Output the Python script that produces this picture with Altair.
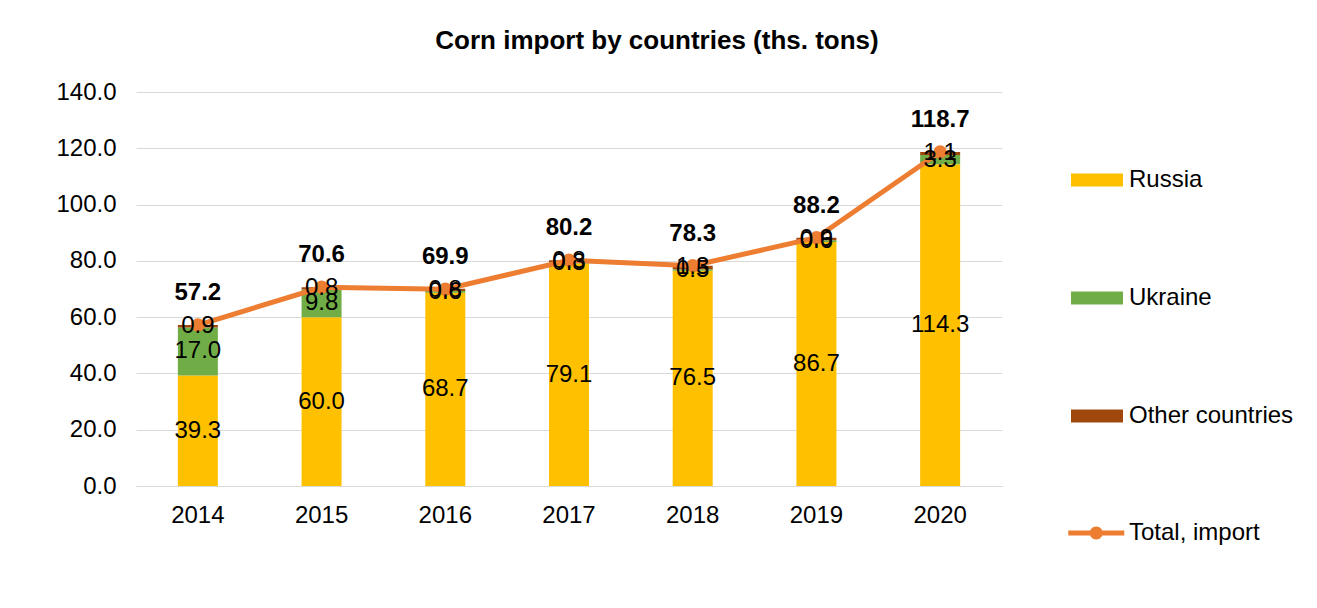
import altair as alt
import pandas as pd

years = ["2014", "2015", "2016", "2017", "2018", "2019", "2020"]
russia = [39.3, 60.0, 68.7, 79.1, 76.5, 86.7, 114.3]
ukraine = [17.0, 9.8, 0.6, 0.3, 0.5, 0.6, 3.3]
other = [0.9, 0.8, 0.8, 0.8, 1.3, 0.9, 1.1]
total = [57.2, 70.6, 69.9, 80.2, 78.3, 88.2, 118.7]
countries = ["Russia", "Ukraine", "Other countries"]
total_name = "Total, import"
bar_colors = ["#FFC000", "#70AD47", "#9E480E"]
line_color = "#ED7D31"
y_ticks = [0, 20, 40, 60, 80, 100, 120, 140]

rows = []
for i, yr in enumerate(years):
    for k, (c, vals) in enumerate(zip(countries, [russia, ukraine, other])):
        rows.append({"year": yr, "country": c, "value": vals[i], "order": k})
bars_df = pd.DataFrame(rows)
tot_df = pd.DataFrame({"year": years, "total": total, "series": [total_name] * len(years)})

FONT = "Liberation Sans"
rect_path = "M-1,-0.25H1V0.25H-1Z"
# line+dot legend glyph (unit = sqrt(180)/2 px)
line_path = "M-1,-0.37H7.35V0.37H-1Z M2.2,0A0.97,0.97 0 1,1 4.14,0A0.97,0.97 0 1,1 2.2,0Z"

bar_legend = alt.Legend(
    title=None, orient="none", legendX=935, legendY=62, padding=0,
    symbolSize=2704, symbolType=rect_path, symbolOffset=0, symbolStrokeWidth=0,
    labelFont=FONT, labelFontSize=24, labelColor="#000000", labelOffset=6, labelLimit=300,
    rowPadding=80,
)
line_legend = alt.Legend(
    title=None, orient="none", legendX=927, legendY=429, padding=0,
    symbolType=line_path, symbolOffset=0, symbolFillColor=line_color,
    symbolStrokeColor=line_color, symbolStrokeWidth=0, symbolOpacity=1,
    labelFont=FONT, labelFontSize=24, labelColor="#000000", labelOffset=42, labelLimit=300,
)

x_enc = alt.X("year:O", title=None,
              scale=alt.Scale(paddingInner=0, paddingOuter=0),
              axis=alt.Axis(labelAngle=0, ticks=False, domainColor="#D9D9D9", domainWidth=1,
                            labelFont=FONT, labelFontSize=24, labelColor="#000000", labelPadding=17,
                            grid=False))
y_scale = alt.Scale(domain=[0, 140], nice=False)
y_axis = alt.Axis(values=y_ticks, format=".1f", ticks=False, domain=False, gridColor="#D9D9D9",
                  gridWidth=1, labelFont=FONT, labelFontSize=24, labelColor="#000000", labelPadding=20)

bars = alt.Chart(bars_df).mark_bar(size=40).encode(
    x=x_enc,
    y=alt.Y("value:Q", stack="zero", scale=y_scale, axis=y_axis, title=None),
    color=alt.Color("country:N", scale=alt.Scale(domain=countries, range=bar_colors), legend=bar_legend),
    order=alt.Order("order:Q"),
)

seg_labels = alt.Chart(bars_df).transform_stack(
    stack="value", groupby=["year"], as_=["y0", "y1"], sort=[alt.SortField("order", "ascending")]
).transform_calculate(
    mid="(datum.y0 + datum.y1) / 2"
).mark_text(font=FONT, fontSize=24, color="#000000", baseline="middle").encode(
    x=alt.X("year:O"),
    y=alt.Y("mid:Q", scale=y_scale),
    text=alt.Text("value:Q", format=".1f"),
)

line = alt.Chart(tot_df).mark_line(strokeWidth=5, color=line_color).encode(
    x=alt.X("year:O"),
    y=alt.Y("total:Q", scale=y_scale),
)
pts = alt.Chart(tot_df).mark_point(filled=True, opacity=1, color=line_color).encode(
    x=alt.X("year:O"),
    y=alt.Y("total:Q", scale=y_scale),
    size=alt.Size("series:N", scale=alt.Scale(domain=[total_name], range=[180, 180]), legend=line_legend),
)
tot_labels = alt.Chart(tot_df).mark_text(font=FONT, fontSize=24, fontWeight="bold", color="#000000",
                                         baseline="middle", dy=-32).encode(
    x=alt.X("year:O"),
    y=alt.Y("total:Q", scale=y_scale),
    text=alt.Text("total:Q", format=".1f"),
)

chart = alt.layer(bars, line, pts, seg_labels, tot_labels).properties(
    width=866, height=394,
    title=alt.TitleParams("Corn import by countries (ths. tons)", font=FONT, fontSize=26, fontWeight="bold",
                          color="#000000", anchor="middle", dx=88, offset=0, baseline="bottom"),
    autosize=alt.AutoSizeParams(type="none"),
    padding={"left": 128, "top": 84, "right": 307, "bottom": 114},
    background="#FFFFFF",
).resolve_legend(color="independent", size="independent").configure_view(stroke=None)

chart.save("out.html", embed_options={"renderer": "svg", "actions": False})
